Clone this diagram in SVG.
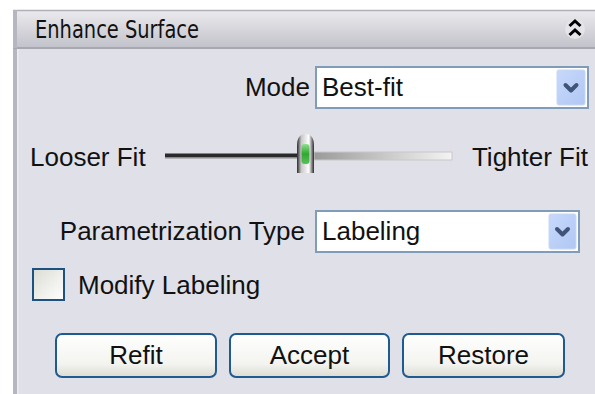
<svg xmlns="http://www.w3.org/2000/svg" width="595" height="394" viewBox="0 0 595 394">
<defs>
<linearGradient id="hdr" x1="0" y1="0" x2="0" y2="1">
<stop offset="0" stop-color="#ebebef"/>
<stop offset="0.5" stop-color="#d6d6dc"/>
<stop offset="1" stop-color="#c2c2ca"/>
</linearGradient>
<linearGradient id="btn" x1="0" y1="0" x2="0" y2="1">
<stop offset="0" stop-color="#ffffff"/>
<stop offset="0.7" stop-color="#f3f3ef"/>
<stop offset="1" stop-color="#dcdcd4"/>
</linearGradient>
<linearGradient id="ddb" x1="0" y1="0" x2="1" y2="1">
<stop offset="0" stop-color="#c8d8fb"/>
<stop offset="1" stop-color="#b0c8f4"/>
</linearGradient>
<linearGradient id="chk" x1="0" y1="0" x2="1" y2="1">
<stop offset="0" stop-color="#dcdcd4"/>
<stop offset="1" stop-color="#ffffff"/>
</linearGradient>
<linearGradient id="trk" x1="0" y1="0" x2="1" y2="0">
<stop offset="0" stop-color="#9a9a9a"/>
<stop offset="1" stop-color="#f4f4f4"/>
</linearGradient>
<linearGradient id="knob" x1="0" y1="0" x2="1" y2="0">
<stop offset="0" stop-color="#2a2a2a"/>
<stop offset="0.25" stop-color="#c8c8c8"/>
<stop offset="0.7" stop-color="#ffffff"/>
<stop offset="1" stop-color="#2a2a2a"/>
</linearGradient>
<linearGradient id="green" x1="0" y1="0" x2="0" y2="1">
<stop offset="0" stop-color="#8fe08f"/>
<stop offset="0.5" stop-color="#2fa82f"/>
<stop offset="1" stop-color="#5cc05c"/>
</linearGradient>
</defs>
<style>
.t{font-family:"Liberation Sans",Arial,sans-serif;font-size:26px;fill:#111}
.h{font-family:"DejaVu Sans","Liberation Sans",sans-serif;font-size:24px;fill:#111}
.dd{fill:#fff;stroke:#7f9db9;stroke-width:2}
.ddb{fill:url(#ddb);stroke:#c8d6f4;stroke-width:1}
.arr{fill:none;stroke:#3f5478;stroke-width:4;stroke-linecap:round;stroke-linejoin:round}
.btn{fill:url(#btn);stroke:#1f5a90;stroke-width:2}
</style>
<rect width="595" height="394" fill="#ffffff"/>
<g id="panel">
<rect x="14" y="10" width="581" height="384" fill="#e0e0e9"/>
<rect x="13" y="10" width="4" height="384" fill="#b6b6c0"/>
<rect x="17" y="48" width="1.5" height="346" fill="#ececf2"/>
</g>
<g id="header">
<rect x="14" y="10" width="581" height="38" fill="url(#hdr)"/>
<line x1="13" y1="10.5" x2="595" y2="10.5" stroke="#b0b0b8" stroke-width="1.5"/>
<line x1="13" y1="48" x2="595" y2="48" stroke="#a8a8b2" stroke-width="2"/>
<rect x="13" y="10" width="4" height="38" fill="#b6b6c0"/>
<text class="h" x="35" y="38" textLength="164" lengthAdjust="spacingAndGlyphs">Enhance Surface</text>
<circle cx="575" cy="29" r="10" fill="#e4e4ea"/>
<path d="M569.5 26 L575 21 L580.5 26 M569.5 35 L575 30 L580.5 35" fill="none" stroke="#000" stroke-width="3"/>
</g>
<g id="mode">
<text class="t" x="310" y="96" text-anchor="end">Mode</text>
<rect class="dd" x="316" y="67" width="272" height="41"/>
<text class="t" x="322" y="96">Best-fit</text>
<rect class="ddb" x="557" y="70" width="28" height="35" rx="2"/>
<path class="arr" d="M565.5 85 L571 90.5 L576.5 85"/>
</g>
<g id="slider">
<text class="t" x="30" y="166">Looser Fit</text>
<rect x="165" y="153.5" width="136" height="3.5" fill="#2a2a2a"/>
<rect x="165" y="157" width="136" height="1.5" fill="#8a8a8a"/>
<rect x="314" y="152" width="138" height="8" fill="url(#trk)" stroke="#c8c8c8" stroke-width="1"/>
<path d="M297 173 L297 146 Q297 134 305.5 134 Q314 134 314 146 L314 173 Z" fill="url(#knob)"/>
<rect x="301.5" y="144" width="8" height="20" rx="3" fill="url(#green)"/>
<text class="t" x="588" y="166" text-anchor="end">Tighter Fit</text>
</g>
<g id="parametrization">
<text class="t" x="305" y="240" text-anchor="end">Parametrization Type</text>
<rect class="dd" x="316" y="211" width="263" height="41"/>
<text class="t" x="322" y="240">Labeling</text>
<rect class="ddb" x="549" y="214" width="27" height="35" rx="2"/>
<path class="arr" d="M557 229 L562.5 234.5 L568 229"/>
</g>
<g id="modify-labeling">
<rect x="33" y="269" width="31" height="31" fill="url(#chk)" stroke="#1c5180" stroke-width="2"/>
<text class="t" x="78" y="294">Modify Labeling</text>
</g>
<g id="refit">
<rect class="btn" x="56" y="334" width="160" height="43" rx="6"/>
<text class="t" x="136" y="364" text-anchor="middle">Refit</text>
</g>
<g id="accept">
<rect class="btn" x="230" y="334" width="159" height="43" rx="6"/>
<text class="t" x="309.5" y="364" text-anchor="middle">Accept</text>
</g>
<g id="restore">
<rect class="btn" x="403" y="334" width="161" height="43" rx="6"/>
<text class="t" x="483.5" y="364" text-anchor="middle">Restore</text>
</g>
<g id="connectors"/>
</svg>
